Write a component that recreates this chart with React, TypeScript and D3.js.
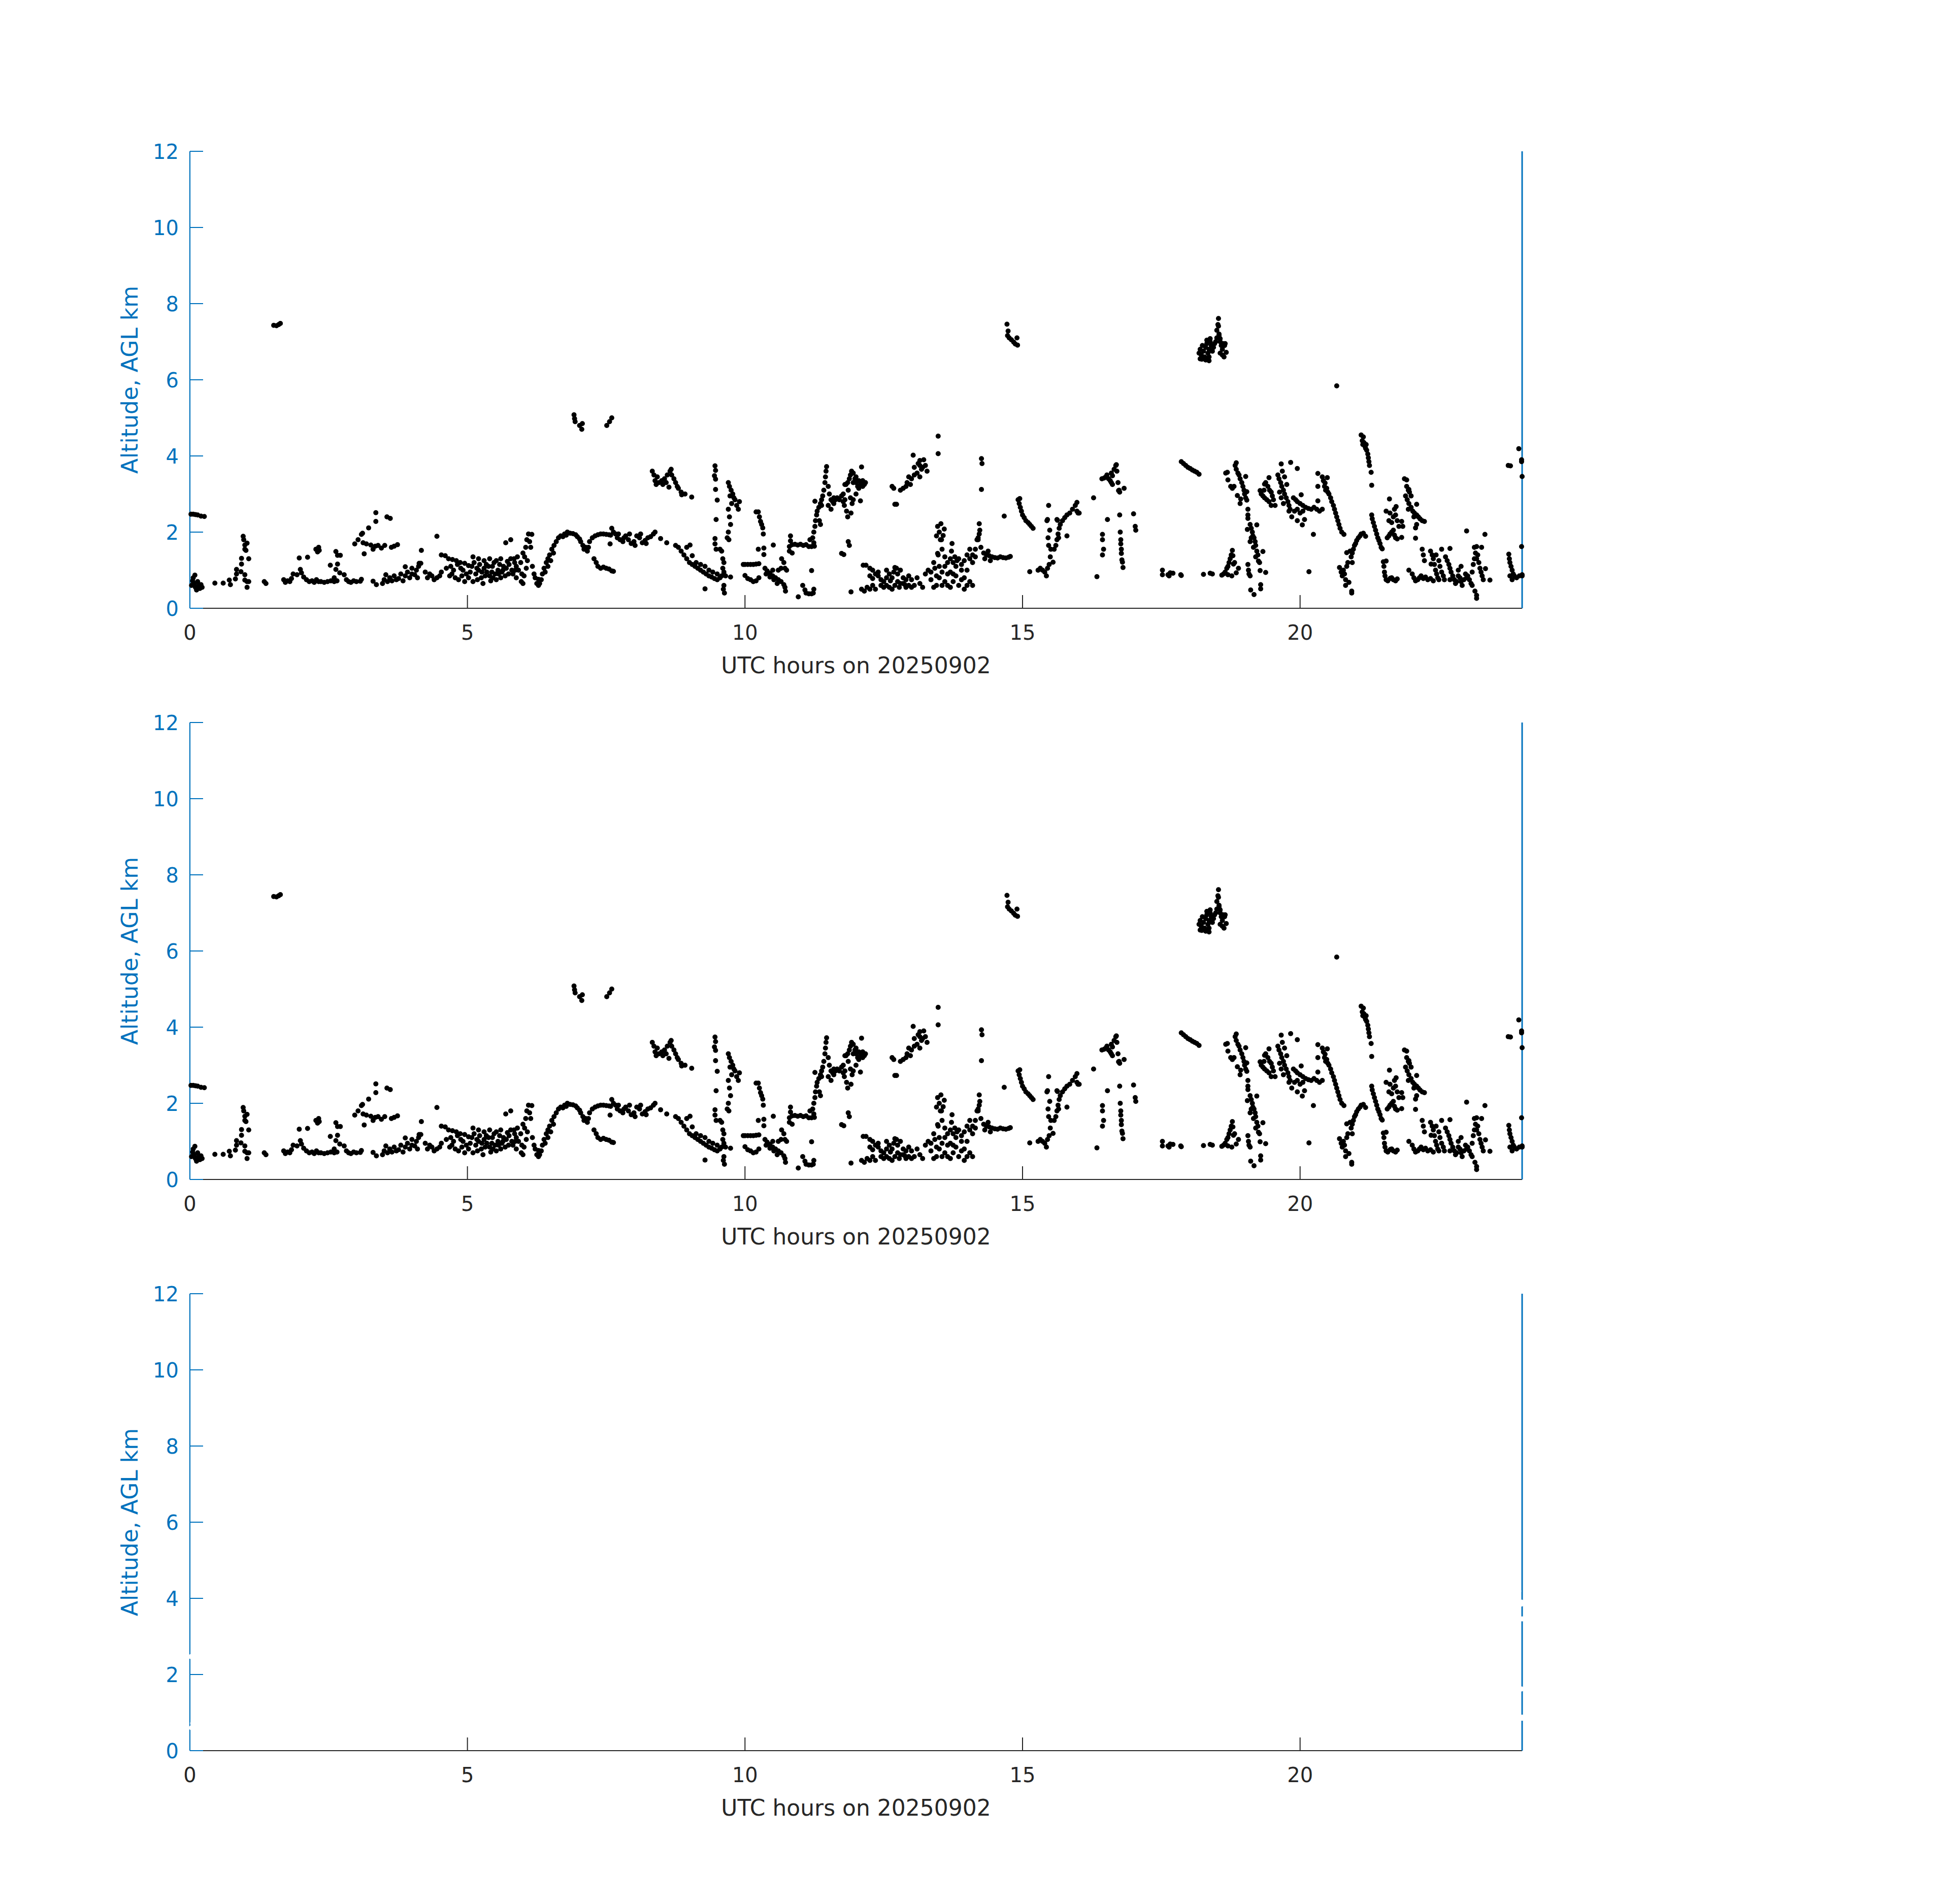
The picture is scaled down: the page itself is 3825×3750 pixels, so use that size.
import React from 'react';
import * as d3 from 'd3';

// [UTC hour, altitude km AGL]
const obsNight: number[][] = [
  [0.03,0.6],[0.05,0.72],[0.08,0.65],[0.1,0.55],[0.12,0.48],[0.14,0.7],[0.16,0.6],[0.18,0.52],[0.2,0.62],[0.22,0.55],[0.06,0.8],[0.09,0.87],
  [0.02,2.47],[0.06,2.47],[0.1,2.46],[0.14,2.45],[0.2,2.42],[0.26,2.41],
  [0.45,0.66],[0.6,0.66],[0.71,0.74],[0.73,0.62],[0.82,0.77],[0.84,0.9],[0.84,1.02],[0.92,0.96],[0.93,1.16],[0.93,1.31],[0.96,1.89],[0.97,1.8],[0.99,1.66],[0.99,1.55],[1.03,1.71],[1.01,1.52],[1.06,1.3],[0.99,0.88],[0.99,0.74],[1.03,0.7],[1.03,0.55],[1.06,0.7],
  [1.34,0.7],[1.37,0.65],
  [1.51,7.43],[1.56,7.42],[1.6,7.45],[1.63,7.48],
  [1.69,0.75],[1.72,0.68],[1.76,0.72],[1.8,0.7],[1.83,0.78],
  [1.86,0.9],[1.93,0.88],[1.97,1.32],[1.99,1.02],[2.01,0.93],[2.05,0.82],[2.1,0.75],[2.15,0.7],[2.2,0.72],[2.24,0.68],[2.28,0.75],[2.32,0.7],
  [2.12,1.34],[2.27,1.55],[2.3,1.48],[2.33,1.52],[2.32,1.6],
  [2.36,0.7],[2.42,0.68],[2.48,0.7],[2.54,0.72],[2.6,0.7],[2.65,0.72],[2.6,0.8],
  [2.53,1.13],[2.63,1.49],[2.66,1.39],[2.66,1.16],[2.63,1.02],[2.7,0.93],[2.71,1.39],
  [2.78,0.88],[2.82,0.75],[2.86,0.7],[2.9,0.68],[2.95,0.72],[3.0,0.7],[3.07,0.71],[3.09,0.76],
  [2.97,1.69],[3.03,1.8],[3.09,1.94],[3.11,1.97],[3.14,1.43],[3.12,1.72],[3.18,1.69],[3.22,2.11],[3.26,1.66],[3.3,1.55],[3.34,1.63],[3.35,2.51],[3.35,2.28],[3.39,1.65],[3.45,1.58],[3.51,1.65],[3.55,2.4],[3.61,2.36],[3.63,1.6],[3.68,1.63],[3.74,1.67],
  [3.3,0.71],[3.36,0.62],
  [3.47,0.65],[3.5,0.75],[3.53,0.88],[3.56,0.7],[3.6,0.8],[3.64,0.72],[3.68,0.85],[3.72,0.75],
  [3.76,0.78],[3.8,0.9],[3.84,0.72],[3.88,0.85],[3.92,0.95],[3.96,0.8],[4.0,0.9],[4.05,0.88],[4.08,1.0],[4.12,1.1],[4.16,1.18],[4.1,0.8],[4.0,1.05],[3.88,1.09],[4.13,1.18],[4.17,1.52],
  [4.24,0.95],[4.28,0.8],[4.32,0.9],[4.36,0.85],[4.4,0.75],[4.45,0.8],[4.5,0.85],[4.53,0.95],[4.45,1.89],
  [4.53,1.4],[4.6,1.38],[4.66,1.3],[4.73,1.28],[4.8,1.25],[4.87,1.2],[4.95,1.18],[5.02,1.12],
  [4.72,0.9],[4.78,0.8],[4.84,0.75],[4.9,0.85],[4.95,0.7],
  [5.1,0.7],[5.15,0.9],[5.2,1.0],[5.25,0.8],[5.3,1.05],[5.35,0.95],[5.4,0.85],[5.45,1.1],[5.5,0.9],[5.55,1.0],[5.6,0.8],[5.65,1.1],[5.72,1.23],[5.75,1.15],[5.8,1.0],[5.85,1.2],[5.69,1.72],[5.78,1.8],
  [4.7,1.1],[4.75,1.0],[4.82,1.15],[4.88,1.05],[5.05,0.95],[5.08,1.1],[5.12,1.2],[5.18,0.75],[5.22,1.15],[5.28,0.65],[5.32,0.85],[5.38,1.1],[5.42,0.72],[5.48,1.2],[5.52,0.75],[5.58,1.15],[5.62,0.95],[5.68,0.85],[5.7,1.05],[5.82,0.9],[5.88,0.8],[5.9,1.35],[5.6,1.3],[5.52,1.25],[5.4,1.3],[5.3,1.25],[5.2,1.3],[5.1,1.35],
  [4.62,1.05],[4.68,0.85],[4.92,1.0],[4.98,0.9],[5.02,0.8],[5.17,1.05],[5.26,0.95],[5.34,1.15],[5.44,0.95],[5.46,0.8],[5.56,0.9],[5.64,1.0],[5.74,0.9],[5.78,1.3],[5.86,1.0],
];

const obsMorning: number[][] = [
  [5.84,1.3],[5.88,1.1],[5.92,1.0],[5.96,1.2],[5.98,0.9],[6.0,1.45],[6.03,1.35],[6.05,1.6],[6.07,1.8],[6.1,1.95],[6.08,1.25],[6.06,1.05],[6.02,0.85],[5.97,0.7],[6.0,0.65],[6.16,1.94],[6.12,1.75],[6.14,1.6],
  [6.17,1.1],[6.2,0.9],[6.22,0.8],[6.25,0.65],[6.28,0.6],[6.3,0.65],[6.33,0.75],[6.35,0.9],[6.38,1.05],[6.42,1.2],[6.45,1.3],[6.48,1.4],[6.52,1.55],[6.56,1.65],[6.6,1.75],[6.64,1.85],[6.68,1.9],[6.28,0.76],[6.4,0.95],[6.45,1.1],[6.5,1.25],[6.55,1.45],
  [6.75,1.95],[6.8,2.0],[6.85,1.97],[6.9,1.96],[6.95,1.93],[6.72,1.88],[6.78,1.92],
  [6.98,1.88],[7.02,1.82],[7.04,1.75],[7.08,1.65],[7.1,1.55],[7.13,1.6],[7.16,1.5],[7.18,1.6],[7.2,1.75],[7.25,1.85],[7.3,1.9],[7.35,1.93],[7.4,1.95],[7.45,1.95],[7.5,1.94],[7.55,1.93],[7.58,1.92],
  [7.28,1.3],[7.32,1.2],[7.35,1.1],[7.4,1.05],[7.45,1.08],[7.5,1.05],[7.55,1.03],[7.6,0.98],[7.63,0.97],
  [6.92,5.08],[6.93,4.98],[6.94,4.9],[7.02,4.8],[7.06,4.7],[7.07,4.85],[7.51,4.8],[7.56,4.9],[7.6,5.0],
  [7.57,1.69],[7.6,2.1],[7.63,2.0],[7.67,1.95],[7.7,1.85],[7.75,1.8],[7.8,1.75],[7.85,1.9],[7.9,1.8],[7.95,1.7],[8.0,1.75],[8.05,1.9],[8.1,1.85],[8.15,1.72],[8.2,1.78],[8.25,1.85],[8.3,1.88],[8.35,1.95],[8.38,2.0],[7.72,1.95],[7.82,1.85],[7.92,1.95],[8.02,1.65],[8.12,1.95],[8.22,1.7],
  [8.48,1.83],[8.59,1.72],
  [8.33,3.6],[8.36,3.5],[8.38,3.35],[8.4,3.25],[8.45,3.3],[8.5,3.35],[8.55,3.4],[8.6,3.5],[8.65,3.6],[8.68,3.5],[8.72,3.4],[8.75,3.3],[8.78,3.2],[8.8,3.15],[8.85,3.05],[8.92,3.0],[8.63,3.18],[8.67,3.65],[8.86,2.98],[9.04,2.92],[8.42,3.45],[8.52,3.25],[8.58,3.3],
  [8.75,1.65],[8.8,1.6],[8.85,1.5],[8.9,1.4],[8.95,1.3],[9.0,1.2],[9.05,1.15],[9.1,1.1],[9.15,1.05],[9.2,1.0],[9.25,0.95],[9.3,0.9],[9.35,0.85],[9.4,0.82],[9.45,0.78],[9.5,0.75],[9.55,0.8],[9.58,0.85],[8.95,1.6],[9.05,1.38],[9.12,1.2],[9.2,1.15],[9.28,1.1],[9.35,1.0],[9.42,0.95],[9.5,0.9],[9.01,1.66],[9.28,0.51],
  [9.46,3.74],[9.47,3.62],[9.45,3.48],[9.47,3.39],[9.47,3.12],[9.5,2.84],[9.48,2.33],[9.46,1.83],[9.46,1.69],[9.48,1.55],
  [9.55,1.55],[9.58,1.5],[9.6,1.3],[9.62,1.2],[9.6,1.05],[9.62,0.95],[9.65,0.85],[9.62,0.6],[9.61,0.5],[9.63,0.4],
  [9.7,3.3],[9.72,3.2],[9.75,3.1],[9.78,3.0],[9.8,2.9],[9.82,2.85],[9.85,2.7],[9.88,2.6],[9.9,2.8],[9.73,2.95],[9.76,2.75],[9.7,2.6],[9.72,2.4],[9.74,2.2],[9.7,2.0],[9.68,1.85],[9.71,1.8],[9.74,0.82],
  [9.97,1.15],[10.0,1.15],[10.05,1.15],[10.1,1.15],[10.15,1.15],[10.2,1.16],[10.25,1.17],
  [10.0,0.86],[10.05,0.78],[10.1,0.75],[10.15,0.7],[10.2,0.72],[10.25,0.8],
  [10.2,2.53],[10.24,2.53],[10.26,2.4],[10.28,2.28],[10.3,2.2],[10.32,2.11],[10.33,1.95],[10.24,1.55],[10.34,1.41],[10.34,1.58],
  [10.36,1.05],[10.4,0.98],[10.45,0.92],[10.5,0.85],[10.55,0.8],[10.6,0.75],[10.65,0.7],[10.7,0.62],[10.72,0.55],[10.73,0.45],[10.38,0.9],[10.45,0.82],[10.52,0.75],[10.58,0.65],[10.5,1.0],[10.6,1.0],[10.65,1.05],
  [10.51,1.66],[10.66,1.3],[10.7,1.2],[10.72,1.05],[10.75,1.0],
  [10.8,1.62],[10.85,1.67],[10.9,1.68],[10.95,1.66],[11.0,1.68],[11.05,1.65],[11.1,1.67],[11.15,1.62],[11.2,1.62],[11.25,1.63],[10.82,1.77],[10.82,1.9],[10.8,1.5],[10.85,1.45],[11.17,1.8],[11.24,1.72],
  [10.96,0.3],[11.04,0.6],[11.08,0.48],[11.1,0.4],[11.15,0.38],[11.2,0.38],[11.23,0.4],[11.24,0.5],[11.2,0.99],
  [11.22,1.85],[11.24,2.0],[11.26,2.15],[11.27,2.3],[11.29,2.45],[11.3,2.55],[11.33,2.65],[11.36,2.75],[11.38,2.85],[11.4,2.95],[11.42,3.1],[11.44,3.3],[11.45,3.45],[11.46,3.6],[11.47,3.72],[11.38,2.7],[11.34,2.3],[11.36,2.2],[11.26,2.81],
  [11.5,3.2],[11.52,3.0],[11.55,2.85],[11.58,2.8],[11.6,2.75],[11.63,2.85],[11.66,2.9],[11.7,2.85],[11.74,2.95],[11.77,2.8],[11.5,2.7],[11.55,2.6],[11.6,2.9],[11.8,3.25],[11.74,1.44],
];

const obsAfternoon: number[][] = [
  [11.77,3.0],[11.8,2.85],[11.82,3.25],[11.85,3.3],[11.88,3.4],[11.9,3.5],[11.92,3.6],[11.95,3.55],[11.98,3.4],[12.0,3.3],[12.03,3.2],[12.05,3.35],[12.08,3.25],[12.1,3.3],[12.12,3.2],[11.86,3.1],[11.9,2.9],[11.93,2.75],[11.95,2.85],[12.0,3.0],[11.79,2.7],[11.83,2.55],[11.85,2.4],[12.1,3.71],[11.91,2.5],[12.08,2.82],
  [11.95,3.3],[12.0,3.45],[12.05,3.15],[12.12,3.35],[12.15,3.25],[12.17,3.3],
  [11.86,1.75],[11.88,1.65],[11.78,1.41],[11.91,0.43],
  [12.1,0.5],[12.15,0.45],[12.2,0.55],[12.25,0.5],[12.3,0.6],[12.35,0.5],[12.18,1.13],[12.25,1.05],[12.3,1.0],[12.35,0.9],[12.4,0.85],[12.45,0.75],[12.5,0.7],[12.55,0.6],[12.6,0.55],[12.65,0.5],[12.7,0.6],[12.75,0.7],[12.8,0.65],[12.85,0.8],[12.9,0.75],[12.95,0.6],[13.0,0.55],[13.05,0.6],[12.68,0.95],[12.73,1.05],[12.55,0.8],[12.62,0.72],[12.78,0.55],[12.88,0.62],[12.13,1.13],[12.7,1.07],
  [12.25,0.85],[12.3,0.78],[12.4,0.95],[12.45,0.6],[12.5,0.55],[12.55,1.0],[12.6,0.9],[12.65,0.8],[12.75,0.9],[12.8,1.0],[12.85,0.65],[12.9,0.55],[12.95,0.85],[13.0,0.75],
  [12.65,3.2],[12.68,3.15],[12.7,2.73],[12.73,2.73],
  [12.8,3.1],[12.85,3.15],[12.9,3.2],[12.92,3.3],[12.95,3.45],[12.98,3.25],[13.0,3.4],[13.05,3.5],[13.1,3.55],[13.12,3.8],[13.15,3.75],[13.18,3.65],[13.2,3.7],[13.22,3.9],[13.25,3.75],[13.28,3.6],[13.05,3.7],[13.15,3.45],[13.03,4.02],[13.15,3.88],
  [13.48,4.52],[13.48,4.06],
  [13.1,0.8],[13.15,0.65],[13.2,0.55],[13.25,0.9],[13.3,1.0],[13.35,0.75],[13.4,0.55],[13.45,0.6],[13.5,0.8],[13.55,0.6],[13.6,1.1],[13.65,0.9],[13.7,1.3],[13.75,1.2],[13.8,0.85],[13.85,0.6],[13.9,0.75],[13.95,1.25],[14.0,1.0],[14.05,0.7],[14.1,1.4],[14.15,1.55],[14.2,1.8],[14.25,1.6],[13.45,1.9],[13.47,2.15],[13.5,2.0],[13.52,1.8],[13.48,1.4],[13.55,1.55],[13.42,1.05],[13.6,1.35],[13.65,0.6],[13.7,0.55],[13.72,1.5],[13.78,1.35],[13.82,1.25],[13.9,1.15],[14.0,1.4],[14.05,1.55],[13.75,0.7],[13.95,0.5],[14.1,0.6],[13.53,2.22],[13.59,2.08],[13.57,1.91],[13.54,1.8],[13.47,1.44],[13.73,1.7],
  [13.35,0.95],[13.4,1.2],[13.45,0.85],[13.5,1.1],[13.55,0.95],[13.6,0.7],[13.65,1.2],[13.7,0.95],[13.75,0.9],[13.8,1.1],[13.85,1.3],[13.9,1.0],[13.95,0.8],[14.0,0.6],[14.05,1.3],[14.1,1.2],[14.15,1.35],
  [14.22,2.22],[14.23,2.05],[14.22,1.95],[14.2,1.85],[14.18,1.8],[14.26,3.12],[14.26,3.93],[14.27,3.8],
  [14.3,1.45],[14.35,1.4],[14.4,1.38],[14.45,1.35],[14.5,1.33],[14.55,1.32],[14.6,1.35],[14.65,1.33],[14.7,1.32],[14.75,1.34],[14.78,1.36],[14.38,1.5],[14.32,1.3],[14.42,1.25],[14.67,2.42],
  [14.72,7.46],[14.74,7.28],[14.73,7.16],[14.76,7.1],[14.8,7.05],[14.84,6.99],[14.87,6.94],[14.91,6.91],[14.9,7.1],
  [14.92,2.85],[14.95,2.88],[14.94,2.75],[14.96,2.65],[14.98,2.55],[15.0,2.45],[15.03,2.38],[15.06,2.3],[15.1,2.25],[15.13,2.2],[15.16,2.15],[15.19,2.1],[15.13,0.96],
  [15.28,1.0],[15.32,1.05],[15.36,1.0],[15.4,0.95],[15.43,0.85],[15.45,1.05],
  [15.47,2.7],[15.45,2.33],[15.44,2.3],[15.49,2.05],[15.46,1.85],[15.47,1.65],[15.51,1.55],[15.5,1.35],[15.55,1.21],[15.48,1.15],
  [15.57,1.55],[15.6,1.65],[15.62,1.8],[15.64,1.95],[15.66,2.1],[15.68,2.2],[15.72,2.3],[15.76,2.38],[15.8,2.45],[15.85,2.5],[15.9,2.6],[15.95,2.7],[15.98,2.55],[16.0,2.5],[16.02,2.5],[15.62,2.33],[15.63,2.31],[15.65,1.85],[15.98,2.78],[15.8,1.9],
  [16.28,2.9],[16.34,0.83],
  [16.44,1.94],[16.44,1.8],[16.46,1.55],[16.44,1.4],[16.53,2.33],
  [16.43,3.4],[16.47,3.42],[16.5,3.45],[16.52,3.5],[16.55,3.4],[16.58,3.35],[16.6,3.3],[16.62,3.25],[16.6,3.55],[16.65,3.65],[16.68,3.75],[16.7,3.6],[16.72,3.3],[16.74,3.1],[16.75,3.05],[16.62,3.48],[16.69,3.77],[16.73,3.09],[16.83,3.15],
  [16.75,2.45],[16.76,2.0],[16.77,1.8],[16.77,1.69],[16.78,1.55],[16.78,1.44],[16.79,1.27],[16.8,1.21],[16.81,1.07],
  [17.0,2.48],[17.03,2.15],[17.04,2.05],
  [17.52,1.0],[17.52,0.88],[17.62,0.88],[17.64,0.85],[17.66,0.93],
];

const obsEvening: number[][] = [
  [17.71,0.92],[17.85,0.88],[17.86,0.86],
  [17.86,3.85],[17.9,3.8],[17.94,3.75],[17.98,3.7],[18.02,3.67],[18.06,3.63],[18.1,3.6],[18.14,3.57],[18.18,3.52],
  [18.26,0.89],[18.38,0.92],[18.42,0.9],
  [18.18,6.7],[18.2,6.8],[18.22,6.65],[18.24,6.9],[18.26,6.75],[18.28,6.6],[18.3,6.85],[18.32,6.95],[18.34,6.7],[18.36,6.8],[18.38,7.0],[18.4,6.9],[18.42,6.75],[18.44,6.85],[18.46,6.95],[18.48,7.0],[18.5,7.1],[18.5,7.3],[18.52,7.45],[18.53,7.61],[18.54,7.2],[18.56,7.0],[18.58,6.9],[18.6,6.8],[18.62,6.95],[18.64,6.9],[18.56,6.7],[18.6,6.65],[18.2,6.55],[18.3,6.52],[18.36,6.6],[18.65,6.95],[18.67,6.72],[18.63,6.6],[18.23,6.54],[18.36,6.5],[18.38,7.08],[18.32,7.04],[18.53,7.41],[18.54,7.16],[18.56,7.08],
  [18.59,0.87],[18.62,0.9],[18.65,0.95],[18.68,1.05],[18.7,1.1],[18.72,1.2],[18.74,1.3],[18.76,1.4],[18.78,1.52],[18.79,1.38],[18.8,1.16],[18.85,0.93],[18.89,1.05],[18.77,0.85],[18.7,0.88],[18.82,1.2],
  [18.66,3.55],[18.69,3.57],[18.7,3.37],[18.75,3.2],[18.78,3.15],[18.81,3.2],[18.83,3.75],[18.85,3.82],[18.85,3.65],[18.88,3.55],[18.9,3.5],[18.92,3.4],[18.95,3.3],[18.97,3.2],[18.99,3.1],[19.0,3.0],[19.02,2.9],[18.87,2.96],[18.93,2.87],[18.92,2.75],[19.02,3.46],[19.04,3.06],[19.04,2.84],
  [19.06,2.6],[19.06,2.45],[19.06,2.36],[19.05,2.07],
  [19.1,2.2],[19.12,2.1],[19.14,2.0],[19.15,1.9],[19.17,1.85],[19.19,1.75],[19.2,1.65],[19.22,1.5],[19.24,1.4],[19.25,1.24],[19.27,1.2],[19.12,1.85],[19.16,1.6],[19.2,1.35],[19.1,1.75],[19.22,2.19],[19.33,1.49],
  [19.06,1.15],[19.07,1.0],[19.08,0.9],[19.1,0.85],[19.28,0.99],[19.38,0.94],[19.11,0.48],[19.17,0.36],[19.29,0.62],[19.29,0.51],
  [19.28,3.09],[19.3,3.0],[19.33,2.95],[19.36,2.9],[19.4,2.85],[19.44,2.8],[19.48,2.7],[19.38,3.3],[19.42,3.2],[19.45,3.1],[19.48,3.05],[19.5,2.95],[19.52,2.85],[19.35,3.1],[19.44,3.43],[19.36,3.26],[19.55,2.7],
  [19.66,3.79],[19.83,3.83],[19.95,3.67],[19.6,3.5],[19.62,3.4],[19.65,3.3],[19.67,3.2],[19.7,3.1],[19.72,3.0],[19.75,2.9],[19.78,2.8],[19.8,2.7],[19.82,2.6],[19.76,3.25],[19.72,3.45],[19.68,3.6],[19.66,2.9],[19.7,2.75],[19.63,3.05],[19.8,2.55],
  [19.88,2.9],[19.92,2.85],[19.95,2.8],[20.0,2.75],[20.05,2.7],[20.1,2.65],[20.15,2.62],[20.2,2.6],[20.25,2.65],[20.3,2.6],[20.35,2.55],[20.4,2.6],[19.9,2.55],[19.95,2.6],[20.0,2.5],[20.05,2.55],[19.85,2.4],[19.95,2.3],[20.04,2.19],[20.08,2.33],[20.02,2.98],
  [20.16,0.96],[20.24,1.94],[20.32,3.54],[20.32,3.2],[20.32,2.82],
  [20.4,3.45],[20.42,3.35],[20.45,3.29],[20.48,3.15],[20.49,3.43],[20.5,3.05],[20.52,3.0],[20.55,2.9],[20.57,2.8],[20.6,2.7],[20.62,2.6],[20.64,2.5],[20.66,2.4],[20.68,2.3],[20.7,2.2],[20.72,2.1],[20.75,2.0],[20.79,1.94],[20.44,3.2],[20.46,3.1],
  [20.66,5.84],
  [20.71,1.07],[20.74,0.95],[20.76,0.85],[20.78,1.0],[20.8,0.9],[20.82,0.75],[20.84,1.1],[20.86,1.2],[20.84,1.46],[20.9,1.5],[20.92,1.35],[20.94,1.2],[20.82,0.6],[20.88,0.68],[20.93,0.45],[20.93,0.4],
  [20.94,1.45],[20.96,1.55],[20.98,1.65],[21.0,1.7],[21.02,1.78],[21.05,1.85],[21.08,1.9],[21.1,1.95],[21.14,1.97],[21.18,1.89],
  [21.1,4.55],[21.12,4.4],[21.13,4.3],[21.15,4.35],[21.17,4.25],[21.18,4.2],[21.2,4.15],[21.22,4.05],[21.23,3.95],[21.24,3.85],[21.25,3.75],[21.28,3.57],[21.29,3.23],[21.14,4.5],[21.19,4.3],
  [21.29,2.45],[21.3,2.35],[21.32,2.25],[21.34,2.15],[21.36,2.05],[21.38,1.95],[21.4,1.85],[21.42,1.78],[21.44,1.7],[21.46,1.6],[21.48,1.56],
  [21.5,1.22],[21.51,1.1],[21.52,0.95],[21.53,0.85],[21.55,0.75],[21.58,0.72],[21.62,0.78],[21.65,0.8],[21.68,0.75],[21.72,0.72],[21.75,0.77],[21.55,1.24],[21.63,0.79],
  [21.57,1.85],[21.6,1.9],[21.62,1.95],[21.65,2.0],[21.68,2.05],[21.7,1.92],[21.72,1.85],[21.75,1.82],[21.6,2.3],[21.62,2.5],[21.65,2.25],[21.68,2.4],[21.7,2.6],[21.72,2.45],[21.75,2.3],[21.78,2.15],[21.61,2.87],[21.55,2.55],[21.73,2.67],[21.83,2.28],[21.83,1.86],
  [21.88,3.4],[21.92,3.37],[21.92,3.2],[21.96,3.12],[21.95,3.1],[21.97,3.05],[22.0,2.95],[21.9,2.95],[21.93,2.85],[21.96,2.75],[22.0,2.65],[22.03,2.55],[22.06,2.5],[22.1,2.45],[22.13,2.4],[22.16,2.35],[22.2,2.3],[22.24,2.28],[21.95,2.6],[22.05,2.4],[22.1,2.2],[21.85,2.15],[22.1,2.73],[22.08,2.11],[22.08,1.84],
  [21.96,1.0],[22.02,0.9],[22.05,0.8],[22.08,0.72],[22.12,0.75],[22.15,0.8],[22.18,0.85],[22.22,0.78],[22.26,0.82],[22.3,0.75],
  [22.2,1.55],[22.22,1.4],[22.24,1.25],
  [22.35,1.5],[22.38,1.4],[22.4,1.3],[22.42,1.15],[22.44,1.0],[22.46,0.9],[22.48,0.8],[22.5,0.75],[22.45,1.4],[22.5,1.25],[22.52,1.1],[22.55,0.95],[22.58,0.85],[22.6,0.75],[22.4,0.72],[22.35,0.78],[22.55,1.55],[22.7,1.57],[22.36,1.16],
  [22.62,1.35],[22.65,1.25],[22.68,1.15],[22.7,1.05],[22.72,0.95],[22.75,0.85],[22.78,0.75],[22.8,0.65],[22.82,0.7],[22.85,0.85],[22.88,0.8],[22.9,0.7],[22.92,0.6],[22.95,0.75],[22.98,0.9],[23.0,0.8],[22.85,1.0],[22.9,1.1],[22.7,0.75],[23.0,2.03],
  [23.02,0.85],[23.05,0.75],[23.08,0.65],[23.1,0.95],[23.12,1.15],[23.14,1.3],[23.16,1.45],[23.18,1.62],[23.2,1.4],[23.22,1.2],[23.24,1.05],[23.26,0.95],[23.28,0.85],[23.3,0.75],[23.14,1.6],[23.18,1.3],[23.1,0.6],[23.15,0.45],[23.18,0.34],[23.18,0.26],[23.27,1.6],[23.33,1.94],[23.42,0.74],[23.34,1.04],
  [23.76,1.42],[23.77,1.3],[23.78,1.2],[23.8,1.1],[23.82,1.0],[23.84,0.9],[23.86,0.85],[23.9,0.8],[23.95,0.85],[23.78,0.85],[23.82,0.75],
  [23.75,3.75],[23.79,3.74],[23.94,4.19],[23.99,3.9],[23.99,3.85],[24.0,3.46],[23.99,1.62],[24.0,0.88],[24.0,0.85],
];

const xTicks = [0, 5, 10, 15, 20];
const yTicks = [0, 2, 4, 6, 8, 10, 12];
const xLabel = 'UTC hours on 20250902';
const yLabel = 'Altitude, AGL km';
// the third panel plots the same points in white
const panelDotColors = ['#000000', '#000000', '#ffffff'];

const W = 3825;
const H = 3750;
const left = 374;
const plotW = 2624;
const plotH = 900;
const panelTops = [298, 1423, 2548];
const blue = '#0072BD';
const axisGrey = '#262626';
const font = '"DejaVu Sans", sans-serif';

const allObs = [...obsNight, ...obsMorning, ...obsAfternoon, ...obsEvening];

function Panel({ top, dotColor }: { top: number; dotColor: string }) {
  const x = d3.scaleLinear().domain([0, 24]).range([left, left + plotW]);
  const y = d3.scaleLinear().domain([0, 12]).range([top + plotH, top]);
  const bottom = top + plotH;
  const tick = 26;

  return (
    <g>
      {/* x axis */}
      <line x1={left} x2={left + plotW} y1={bottom} y2={bottom} stroke={axisGrey} strokeWidth={2.2} />
      {xTicks.map(t => (
        <g key={'x' + t}>
          <line x1={x(t)} x2={x(t)} y1={bottom} y2={bottom - tick} stroke={axisGrey} strokeWidth={2} />
          <text x={x(t)} y={bottom + 62} textAnchor="middle" fontSize={40} fill={axisGrey} fontFamily={font}>{t}</text>
        </g>
      ))}
      <text x={left + plotW / 2} y={bottom + 128} textAnchor="middle" fontSize={44} fill={axisGrey} fontFamily={font}>{xLabel}</text>

      {/* left y axis */}
      <line x1={left} x2={left} y1={top} y2={bottom} stroke={blue} strokeWidth={2.2} />
      {yTicks.map(t => (
        <g key={'y' + t}>
          <line x1={left} x2={left + tick} y1={y(t)} y2={y(t)} stroke={blue} strokeWidth={2} />
          <text x={left - 22} y={y(t) + 15} textAnchor="end" fontSize={40} fill={blue} fontFamily={font}>{t}</text>
        </g>
      ))}
      <text
        transform={`translate(271,${top + plotH / 2}) rotate(-90)`}
        textAnchor="middle"
        fontSize={44}
        fill={blue}
        fontFamily={font}
      >{yLabel}</text>

      {/* right y axis */}
      <line x1={left + plotW} x2={left + plotW} y1={top} y2={bottom} stroke={blue} strokeWidth={3} />

      {allObs.map((d, i) => (
        <circle key={i} cx={x(d[0])} cy={y(d[1])} r={5} fill={dotColor} />
      ))}
    </g>
  );
}

export default function App() {
  return (
    <svg
      width={W}
      height={H}
      viewBox={`0 0 ${W} ${H}`}
      style={{ position: 'absolute', left: 0, top: 0, display: 'block', background: '#fff' }}
    >
      <rect x={0} y={0} width={W} height={H} fill="#fff" />
      {panelTops.map((top, i) => (
        <Panel key={i} top={top} dotColor={panelDotColors[i]} />
      ))}
    </svg>
  );
}
